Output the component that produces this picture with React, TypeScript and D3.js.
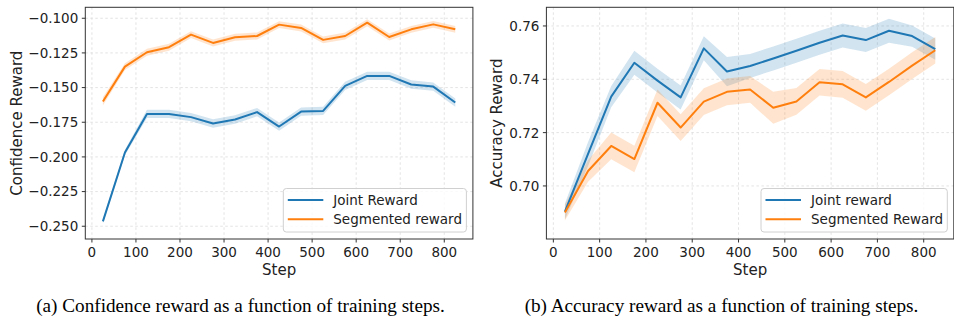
import React, { useEffect } from 'react';
import * as d3 from 'd3';

const steps = [25, 75, 125, 175, 225, 275, 325, 375, 425, 475, 525, 575, 625, 675, 725, 775, 825];

// (a) confidence reward
const confJoint = [-0.2465, -0.1968, -0.169, -0.169, -0.1713, -0.1759, -0.173, -0.1677, -0.1781, -0.1673, -0.1668, -0.1488, -0.1416, -0.1416, -0.1478, -0.1493, -0.1608];
const confJointErr = [0.0015, 0.002, 0.003, 0.003, 0.003, 0.003, 0.003, 0.003, 0.003, 0.003, 0.003, 0.003, 0.003, 0.003, 0.003, 0.003, 0.003];
const confSeg = [-0.16, -0.1349, -0.1245, -0.1209, -0.1118, -0.1178, -0.1137, -0.1128, -0.1046, -0.107, -0.1156, -0.1128, -0.1032, -0.1135, -0.108, -0.1044, -0.108];
const confSegErr = [0.003, 0.0025, 0.0025, 0.0025, 0.0025, 0.0025, 0.0025, 0.0025, 0.0025, 0.0025, 0.0025, 0.0025, 0.0025, 0.0025, 0.0025, 0.0025, 0.0025];
const confTicks = [-0.25, -0.225, -0.2, -0.175, -0.15, -0.125, -0.1];

// (b) accuracy reward
const accJoint = [0.6904, 0.712, 0.7335, 0.7462, 0.7395, 0.7332, 0.7516, 0.7429, 0.745, 0.7478, 0.7507, 0.7537, 0.7564, 0.7547, 0.7582, 0.7562, 0.7513];
const accJointErr = [0.003, 0.0045, 0.004, 0.0045, 0.0045, 0.0045, 0.0045, 0.0055, 0.0045, 0.0045, 0.0045, 0.0045, 0.0045, 0.0045, 0.0045, 0.004, 0.004];
const accSeg = [0.69, 0.7056, 0.715, 0.7101, 0.7312, 0.7219, 0.7316, 0.7353, 0.7362, 0.7293, 0.7317, 0.7389, 0.7381, 0.7332, 0.739, 0.7451, 0.7509];
const accSegErr = [0.003, 0.004, 0.005, 0.005, 0.005, 0.005, 0.005, 0.005, 0.005, 0.006, 0.005, 0.005, 0.005, 0.005, 0.005, 0.005, 0.005];
const accTicks = [0.7, 0.72, 0.74, 0.76];

const stepTicks = [0, 100, 200, 300, 400, 500, 600, 700, 800];

const BLUE = '#1f77b4';
const ORANGE = '#ff7f0e';
const FONT = 'DejaVu Sans, sans-serif';

function Panel({ left, right, yDomain, yTicks, yFmt, ylabel, labelX, series, legend, legendLeft }) {
    const top = 7.3, bottom = 239;
    const x = d3.scaleLinear().domain([-15, 865]).range([left, right]);
    const y = d3.scaleLinear().domain(yDomain).range([bottom, top]);

    const line = d3.line<number>().x((d, i) => x(steps[i])).y(d => y(d));
    const band = (vals, err) => d3.area<number>()
        .x((d, i) => x(steps[i]))
        .y0((d, i) => y(d - err[i]))
        .y1((d, i) => y(d + err[i]))(vals);

    return (
        <g fontFamily={FONT}>
            {/* grid */}
            {stepTicks.map(t => (
                <line key={'gx' + t} x1={x(t)} x2={x(t)} y1={top} y2={bottom} stroke="#dcdcdc" strokeWidth={0.8} strokeDasharray="2.5,2.5" />
            ))}
            {yTicks.map(t => (
                <line key={'gy' + t} x1={left} x2={right} y1={y(t)} y2={y(t)} stroke="#dcdcdc" strokeWidth={0.8} strokeDasharray="2.5,2.5" />
            ))}
            {/* bands + lines */}
            {series.map(s => (
                <path key={'b' + s.name} d={band(s.vals, s.err)} fill={s.color} fillOpacity={0.2} stroke="none" />
            ))}
            {series.map(s => (
                <path key={'l' + s.name} d={line(s.vals)} fill="none" stroke={s.color} strokeWidth={2} strokeLinejoin="round" />
            ))}
            {/* frame */}
            <rect x={left} y={top} width={right - left} height={bottom - top} fill="none" stroke="#333" strokeWidth={1} />
            {/* x ticks */}
            {stepTicks.map(t => (
                <g key={'tx' + t}>
                    <line x1={x(t)} x2={x(t)} y1={bottom} y2={bottom + 3.5} stroke="#333" />
                    <text x={x(t)} y={257} fontSize={13.5} textAnchor="middle" fill="#222">{t}</text>
                </g>
            ))}
            {/* y ticks */}
            {yTicks.map(t => (
                <g key={'ty' + t}>
                    <line x1={left - 3.5} x2={left} y1={y(t)} y2={y(t)} stroke="#333" />
                    <text x={left - 7} y={y(t) + 4.9} fontSize={13.5} textAnchor="end" fill="#222">{yFmt(t)}</text>
                </g>
            ))}
            <text x={(left + right) / 2} y={275} fontSize={15} textAnchor="middle" fill="#222">Step</text>
            <text transform={`translate(${labelX},${(top + bottom) / 2}) rotate(-90)`} fontSize={15} textAnchor="middle" fill="#222">{ylabel}</text>
            {/* legend */}
            <rect x={legendLeft} y={188.5} width={right - 6.5 - legendLeft} height={43.5} rx={3} fill="#fff" fillOpacity={0.8} stroke="#d0d0d0" strokeWidth={1} />
            {series.map((s, i) => (
                <g key={'lg' + s.name}>
                    <line x1={legendLeft + 4.5} x2={legendLeft + 40} y1={200 + i * 19.3} y2={200 + i * 19.3} stroke={s.color} strokeWidth={2} />
                    <text x={legendLeft + 50} y={204.8 + i * 19.3} fontSize={13.5} fill="#222">{legend[i]}</text>
                </g>
            ))}
        </g>
    );
}

export default function App() {
    useEffect(() => {
        document.body.style.margin = '0';
    }, []);

    const minus = d3.format('.3f');
    const confFmt = v => minus(v).replace('-', '\u2212');
    const accFmt = d3.format('.2f');

    return (
        <svg width={954} height={320} style={{ display: 'block', background: '#fff' }}>
            <Panel
                left={85.3} right={472.9}
                yDomain={[-0.2592, -0.0921]} yTicks={confTicks} yFmt={confFmt}
                ylabel="Confidence Reward" labelX={22}
                series={[
                    { name: 'joint', vals: confJoint, err: confJointErr, color: BLUE },
                    { name: 'seg', vals: confSeg, err: confSegErr, color: ORANGE },
                ]}
                legend={['Joint Reward', 'Segmented reward']}
                legendLeft={283.3}
            />
            <Panel
                left={546.4} right={953.8}
                yDomain={[0.6801, 0.767]} yTicks={accTicks} yFmt={accFmt}
                ylabel="Accuracy Reward" labelX={502}
                series={[
                    { name: 'joint', vals: accJoint, err: accJointErr, color: BLUE },
                    { name: 'seg', vals: accSeg, err: accSegErr, color: ORANGE },
                ]}
                legend={['Joint reward', 'Segmented Reward']}
                legendLeft={761}
            />
            <text x={240.5} y={312} fontSize={19.2} textAnchor="middle" fontFamily="Liberation Serif, Times New Roman, serif" fill="#000">(a) Confidence reward as a function of training steps.</text>
            <text x={721.5} y={312} fontSize={19.2} textAnchor="middle" fontFamily="Liberation Serif, Times New Roman, serif" fill="#000">(b) Accuracy reward as a function of training steps.</text>
        </svg>
    );
}
